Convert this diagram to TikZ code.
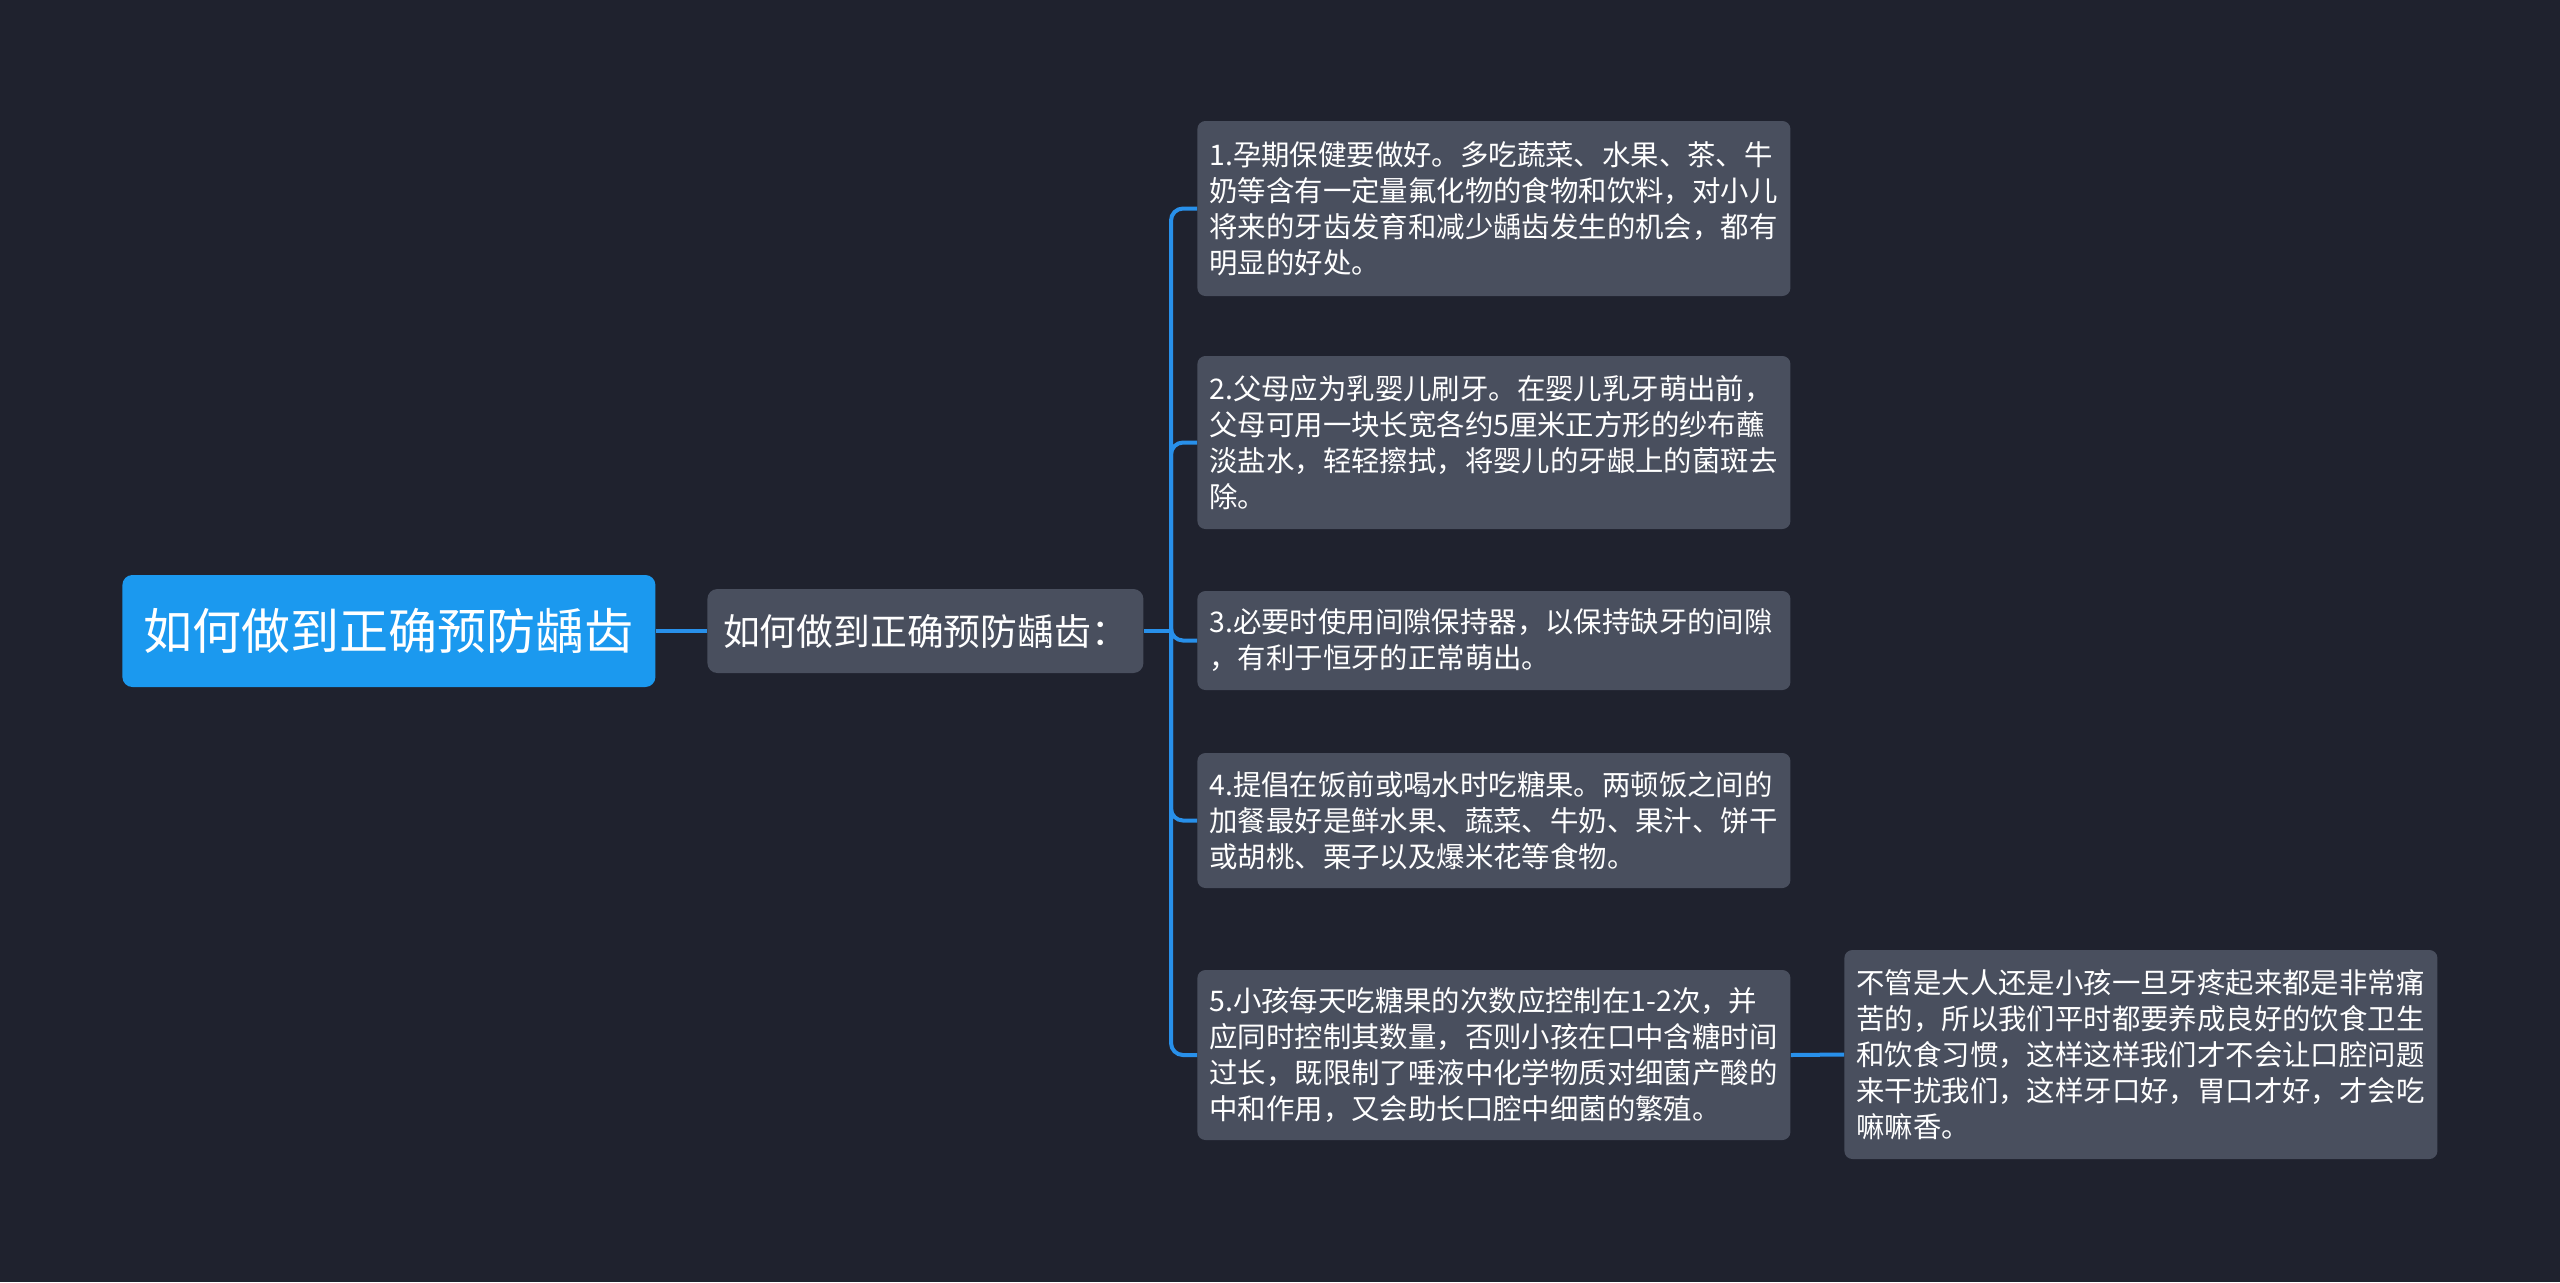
\documentclass[tikz,border=0pt]{standalone}
\usepackage{fontspec}
\setmainfont{Noto Sans CJK SC}
\definecolor{bgc}{RGB}{31,34,46}
\definecolor{boxc}{RGB}{73,79,94}
\definecolor{rootc}{RGB}{27,153,239}
\definecolor{linec}{RGB}{40,144,234}
\begin{document}
\begin{tikzpicture}[x=0.5pt,y=-0.5pt,
  leaf/.style={fill=boxc, rounded corners=4pt, text=white, anchor=west,
    font=\fontsize{14.2pt}{18pt}\selectfont, align=left, text width=284.5pt,
    inner xsep=6pt, inner ysep=0pt, minimum width=296.5pt},
  rootbox/.style={fill=rootc, rounded corners=5pt, text=white, anchor=west,
    font=\fontsize{24.5pt}{28pt}\selectfont, minimum width=266.5pt, minimum height=56pt, inner sep=0pt},
  midbox/.style={fill=boxc, rounded corners=5pt, text=white, anchor=west,
    font=\fontsize{18.4pt}{21pt}\selectfont, minimum width=218pt, minimum height=42pt, inner sep=0pt},
  conn/.style={draw=linec, line width=2pt, rounded corners=6pt}]
\fill[bgc] (0,0) rectangle (2560,1282);
\useasboundingbox (0,0) rectangle (2560,1282);

\node[rootbox] (root) at (122,631) {如何做到正确预防龋齿};
\node[midbox] (mid) at (707,631) {如何做到正确预防龋齿：};

\node[leaf, minimum height=87.5pt] (c1) at (1197,208.5) {1.孕期保健要做好。多吃蔬菜、水果、茶、牛\\奶等含有一定量氟化物的食物和饮料，对小儿\\将来的牙齿发育和减少龋齿发生的机会，都有\\明显的好处。};
\node[leaf, minimum height=86.5pt] (c2) at (1197,442.5) {2.父母应为乳婴儿刷牙。在婴儿乳牙萌出前，\\父母可用一块长宽各约5厘米正方形的纱布蘸\\淡盐水，轻轻擦拭，将婴儿的牙龈上的菌斑去\\除。};
\node[leaf, minimum height=49.5pt] (c3) at (1197,640.5) {3.必要时使用间隙保持器，以保持缺牙的间隙\\，有利于恒牙的正常萌出。};
\node[leaf, minimum height=67.5pt] (c4) at (1197,820.5) {4.提倡在饭前或喝水时吃糖果。两顿饭之间的\\加餐最好是鲜水果、蔬菜、牛奶、果汁、饼干\\或胡桃、栗子以及爆米花等食物。};
\node[leaf, minimum height=85pt] (c5) at (1197,1055) {5.小孩每天吃糖果的次数应控制在1-2次，并\\应同时控制其数量，否则小孩在口中含糖时间\\过长，既限制了唾液中化学物质对细菌产酸的\\中和作用，又会助长口腔中细菌的繁殖。};
\node[leaf, minimum height=104.5pt] (r5) at (1844,1054.5) {不管是大人还是小孩一旦牙疼起来都是非常痛\\苦的，所以我们平时都要养成良好的饮食卫生\\和饮食习惯，这样这样我们才不会让口腔问题\\来干扰我们，这样牙口好，胃口才好，才会吃\\嘛嘛香。};

\coordinate (tr) at (1171,631);
\draw[conn] (root.east) -- (mid.west);
\draw[conn] (mid.east) -- (tr);
\foreach \c in {c1,c2,c3,c4,c5}{
  \draw[conn] (tr) |- (\c.west);
}
\draw[conn] (c5.east) -- (r5.west);
\end{tikzpicture}
\end{document}
